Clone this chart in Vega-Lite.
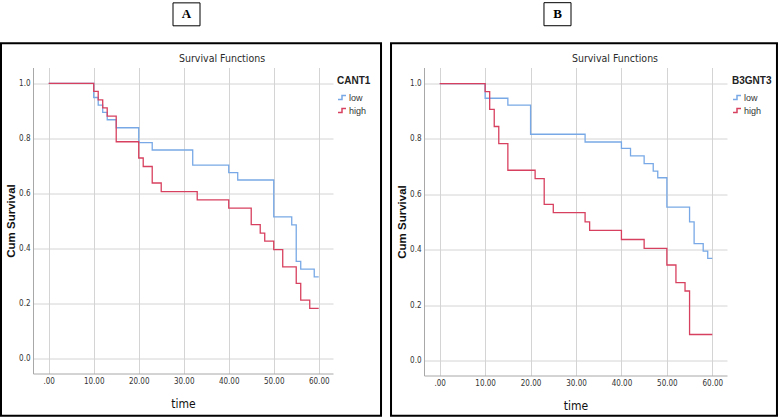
{
  "$schema": "https://vega.github.io/schema/vega-lite/v6.json",
  "background": "white",
  "padding": {"left": 0, "top": 1.5, "right": 0, "bottom": 0},
  "spacing": 7,
  "config": {
    "view": {"stroke": null},
    "font": "Liberation Sans Narrow, DejaVu Sans Condensed, sans-serif",
    "axis": {
      "grid": true,
      "gridColor": "#d4d4d4",
      "gridWidth": 1,
      "ticks": false,
      "domainColor": "#a8a8a8",
      "domainWidth": 1,
      "labelFontSize": 8,
      "labelColor": "#333333",
      "labelFont": "Liberation Sans Narrow, DejaVu Sans Condensed, sans-serif"
    },
    "axisX": {
      "labelPadding": 4,
      "titleFontSize": 12,
      "titleFontWeight": "normal",
      "titleColor": "#111111",
      "titlePadding": 13,
      "titleFont": "Liberation Sans Narrow, DejaVu Sans Condensed, sans-serif"
    },
    "axisY": {
      "labelPadding": 3,
      "titleFontSize": 11.5,
      "titleFontWeight": "bold",
      "titleColor": "#111111",
      "titlePadding": 2,
      "titleFont": "Liberation Sans, Arial, sans-serif"
    },
    "legend": {
      "orient": "none",
      "padding": 0,
      "titleFont": "Liberation Sans, Arial, sans-serif",
      "titleFontSize": 10,
      "titleFontWeight": "bold",
      "titleColor": "#222222",
      "titlePadding": 7,
      "labelFont": "Liberation Sans, Arial, sans-serif",
      "labelFontSize": 9,
      "labelColor": "#333333",
      "labelOffset": 2,
      "rowPadding": 3,
      "symbolType": "M-1,0.5L0,0.5L0,-0.5L1,-0.5",
      "symbolSize": 64,
      "symbolStrokeWidth": 1.5,
      "symbolFillColor": "transparent"
    }
  },
  "datasets": {
    "km": [
      {"panel": "A", "group": "low", "time": 0, "surv": 1.0},
      {"panel": "A", "group": "low", "time": 10, "surv": 0.949},
      {"panel": "A", "group": "low", "time": 11, "surv": 0.921},
      {"panel": "A", "group": "low", "time": 12, "surv": 0.895},
      {"panel": "A", "group": "low", "time": 13, "surv": 0.868},
      {"panel": "A", "group": "low", "time": 15, "surv": 0.839},
      {"panel": "A", "group": "low", "time": 20, "surv": 0.785},
      {"panel": "A", "group": "low", "time": 23, "surv": 0.758},
      {"panel": "A", "group": "low", "time": 32, "surv": 0.703},
      {"panel": "A", "group": "low", "time": 40, "surv": 0.676},
      {"panel": "A", "group": "low", "time": 42, "surv": 0.649},
      {"panel": "A", "group": "low", "time": 50, "surv": 0.515},
      {"panel": "A", "group": "low", "time": 54, "surv": 0.486},
      {"panel": "A", "group": "low", "time": 55, "surv": 0.353},
      {"panel": "A", "group": "low", "time": 56, "surv": 0.325},
      {"panel": "A", "group": "low", "time": 59, "surv": 0.297},
      {"panel": "A", "group": "low", "time": 60, "surv": 0.297},
      {"panel": "A", "group": "high", "time": 0, "surv": 1.0},
      {"panel": "A", "group": "high", "time": 10, "surv": 0.971},
      {"panel": "A", "group": "high", "time": 11, "surv": 0.94},
      {"panel": "A", "group": "high", "time": 12, "surv": 0.911},
      {"panel": "A", "group": "high", "time": 13, "surv": 0.881},
      {"panel": "A", "group": "high", "time": 15, "surv": 0.788},
      {"panel": "A", "group": "high", "time": 20, "surv": 0.729},
      {"panel": "A", "group": "high", "time": 21, "surv": 0.698},
      {"panel": "A", "group": "high", "time": 23, "surv": 0.638},
      {"panel": "A", "group": "high", "time": 25, "surv": 0.607},
      {"panel": "A", "group": "high", "time": 33, "surv": 0.577},
      {"panel": "A", "group": "high", "time": 40, "surv": 0.547},
      {"panel": "A", "group": "high", "time": 45, "surv": 0.487},
      {"panel": "A", "group": "high", "time": 47, "surv": 0.456},
      {"panel": "A", "group": "high", "time": 48, "surv": 0.427},
      {"panel": "A", "group": "high", "time": 50, "surv": 0.396},
      {"panel": "A", "group": "high", "time": 52, "surv": 0.333},
      {"panel": "A", "group": "high", "time": 55, "surv": 0.273},
      {"panel": "A", "group": "high", "time": 56, "surv": 0.212},
      {"panel": "A", "group": "high", "time": 58, "surv": 0.182},
      {"panel": "A", "group": "high", "time": 60, "surv": 0.182},
      {"panel": "B", "group": "low", "time": 0, "surv": 1.0},
      {"panel": "B", "group": "low", "time": 10, "surv": 0.947},
      {"panel": "B", "group": "low", "time": 15, "surv": 0.922},
      {"panel": "B", "group": "low", "time": 20, "surv": 0.817},
      {"panel": "B", "group": "low", "time": 32, "surv": 0.789},
      {"panel": "B", "group": "low", "time": 40, "surv": 0.766},
      {"panel": "B", "group": "low", "time": 42, "surv": 0.739},
      {"panel": "B", "group": "low", "time": 45, "surv": 0.711},
      {"panel": "B", "group": "low", "time": 47, "surv": 0.684},
      {"panel": "B", "group": "low", "time": 48, "surv": 0.66},
      {"panel": "B", "group": "low", "time": 50, "surv": 0.554},
      {"panel": "B", "group": "low", "time": 55, "surv": 0.501},
      {"panel": "B", "group": "low", "time": 56, "surv": 0.422},
      {"panel": "B", "group": "low", "time": 58, "surv": 0.395},
      {"panel": "B", "group": "low", "time": 59, "surv": 0.369},
      {"panel": "B", "group": "low", "time": 60, "surv": 0.369},
      {"panel": "B", "group": "high", "time": 0, "surv": 1.0},
      {"panel": "B", "group": "high", "time": 10, "surv": 0.971},
      {"panel": "B", "group": "high", "time": 11, "surv": 0.907},
      {"panel": "B", "group": "high", "time": 12, "surv": 0.845},
      {"panel": "B", "group": "high", "time": 13, "surv": 0.783},
      {"panel": "B", "group": "high", "time": 15, "surv": 0.687},
      {"panel": "B", "group": "high", "time": 21, "surv": 0.657},
      {"panel": "B", "group": "high", "time": 23, "surv": 0.564},
      {"panel": "B", "group": "high", "time": 25, "surv": 0.534},
      {"panel": "B", "group": "high", "time": 32, "surv": 0.501},
      {"panel": "B", "group": "high", "time": 33, "surv": 0.47},
      {"panel": "B", "group": "high", "time": 40, "surv": 0.437},
      {"panel": "B", "group": "high", "time": 45, "surv": 0.405},
      {"panel": "B", "group": "high", "time": 50, "surv": 0.345},
      {"panel": "B", "group": "high", "time": 52, "surv": 0.281},
      {"panel": "B", "group": "high", "time": 54, "surv": 0.251},
      {"panel": "B", "group": "high", "time": 55, "surv": 0.094},
      {"panel": "B", "group": "high", "time": 60, "surv": 0.094}
    ]
  },
  "hconcat": [
    {
      "width": 300,
      "height": 306,
      "layer": [
        {
          "data": {"name": "km"},
          "transform": [{"filter": "datum.panel === 'A'"}],
          "mark": {"type": "line", "interpolate": "step-after", "strokeWidth": 1.3},
          "encoding": {
            "x": {
              "field": "time", "type": "quantitative", "title": "time",
              "scale": {"domain": [-3.49, 63.17], "nice": false, "zero": false},
              "axis": {"values": [0, 10, 20, 30, 40, 50, 60], "labelExpr": "datum.value === 0 ? '.00' : format(datum.value, '.2f')"}
            },
            "y": {
              "field": "surv", "type": "quantitative", "title": "Cum Survival",
              "scale": {"domain": [-0.0545, 1.058], "nice": false, "zero": false},
              "axis": {"values": [0, 0.2, 0.4, 0.6, 0.8, 1.0], "format": ".1f"}
            },
            "color": {
              "field": "group", "type": "nominal",
              "scale": {"domain": ["low", "high"], "range": ["#78a9e6", "#d8405f"]},
              "legend": {"title": "CANT1", "legendX": 304, "legendY": 8}
            },
            "detail": {"field": "group"}
          }
        },
        {
          "data": {"values": [{}]},
          "mark": {"type": "text", "text": "Survival Functions", "font": "Liberation Sans Narrow, DejaVu Sans Condensed, sans-serif", "fontSize": 10.5, "align": "center", "baseline": "middle", "color": "#2a2a2a"},
          "encoding": {
            "x": {"datum": 38.51, "type": "quantitative", "title": "time"},
            "y": {"datum": 1.0896, "type": "quantitative", "title": "Cum Survival"}
          }
        },
        {
          "data": {"values": [{}]},
          "mark": {"type": "rect", "fill": null, "stroke": "#000000", "strokeWidth": 2},
          "encoding": {
            "x": {"datum": -10.6, "type": "quantitative", "title": "time"},
            "x2": {"datum": 73.84},
            "y": {"datum": 1.146, "type": "quantitative", "title": "Cum Survival"},
            "y2": {"datum": -0.2085}
          }
        },
        {
          "data": {"values": [{}]},
          "mark": {"type": "rect", "fill": "#ffffff", "stroke": "#000000", "strokeWidth": 1},
          "encoding": {
            "x": {"datum": 27.62, "type": "quantitative", "title": "time"},
            "x2": {"datum": 33.62},
            "y": {"datum": 1.293, "type": "quantitative", "title": "Cum Survival"},
            "y2": {"datum": 1.2096}
          }
        },
        {
          "data": {"values": [{}]},
          "mark": {"type": "text", "text": "A", "font": "Liberation Serif, serif", "fontWeight": "bold", "fontSize": 13, "align": "center", "baseline": "middle", "color": "#000000"},
          "encoding": {
            "x": {"datum": 30.62, "type": "quantitative", "title": "time"},
            "y": {"datum": 1.251, "type": "quantitative", "title": "Cum Survival"}
          }
        }
      ]
    },
    {
      "width": 303,
      "height": 308,
      "layer": [
        {
          "data": {"name": "km"},
          "transform": [{"filter": "datum.panel === 'B'"}],
          "mark": {"type": "line", "interpolate": "step-after", "strokeWidth": 1.3},
          "encoding": {
            "x": {
              "field": "time", "type": "quantitative", "title": "time",
              "scale": {"domain": [-3.46, 63.24], "nice": false, "zero": false},
              "axis": {"values": [0, 10, 20, 30, 40, 50, 60], "labelExpr": "datum.value === 0 ? '.00' : format(datum.value, '.2f')"}
            },
            "y": {
              "field": "surv", "type": "quantitative", "title": "Cum Survival",
              "scale": {"domain": [-0.054, 1.058], "nice": false, "zero": false},
              "axis": {"values": [0, 0.2, 0.4, 0.6, 0.8, 1.0], "format": ".1f"}
            },
            "color": {
              "field": "group", "type": "nominal",
              "scale": {"domain": ["low", "high"], "range": ["#78a9e6", "#d8405f"]},
              "legend": {"title": "B3GNT3", "legendX": 308, "legendY": 8}
            },
            "detail": {"field": "group"}
          }
        },
        {
          "data": {"values": [{}]},
          "mark": {"type": "text", "text": "Survival Functions", "font": "Liberation Sans Narrow, DejaVu Sans Condensed, sans-serif", "fontSize": 10.5, "align": "center", "baseline": "middle", "color": "#2a2a2a"},
          "encoding": {
            "x": {"datum": 38.58, "type": "quantitative", "title": "time"},
            "y": {"datum": 1.0895, "type": "quantitative", "title": "Cum Survival"}
          }
        },
        {
          "data": {"values": [{}]},
          "mark": {"type": "rect", "fill": null, "stroke": "#000000", "strokeWidth": 2},
          "encoding": {
            "x": {"datum": -10.72, "type": "quantitative", "title": "time"},
            "x2": {"datum": 74.24},
            "y": {"datum": 1.1455, "type": "quantitative", "title": "Cum Survival"},
            "y2": {"datum": -0.1994}
          }
        },
        {
          "data": {"values": [{}]},
          "mark": {"type": "rect", "fill": "#ffffff", "stroke": "#000000", "strokeWidth": 1},
          "encoding": {
            "x": {"datum": 22.95, "type": "quantitative", "title": "time"},
            "x2": {"datum": 28.9},
            "y": {"datum": 1.292, "type": "quantitative", "title": "Cum Survival"},
            "y2": {"datum": 1.2088}
          }
        },
        {
          "data": {"values": [{}]},
          "mark": {"type": "text", "text": "B", "font": "Liberation Serif, serif", "fontWeight": "bold", "fontSize": 13, "align": "center", "baseline": "middle", "color": "#000000"},
          "encoding": {
            "x": {"datum": 25.93, "type": "quantitative", "title": "time"},
            "y": {"datum": 1.25, "type": "quantitative", "title": "Cum Survival"}
          }
        }
      ]
    }
  ],
  "resolve": {"scale": {"color": "independent"}, "legend": {"color": "independent"}}
}
